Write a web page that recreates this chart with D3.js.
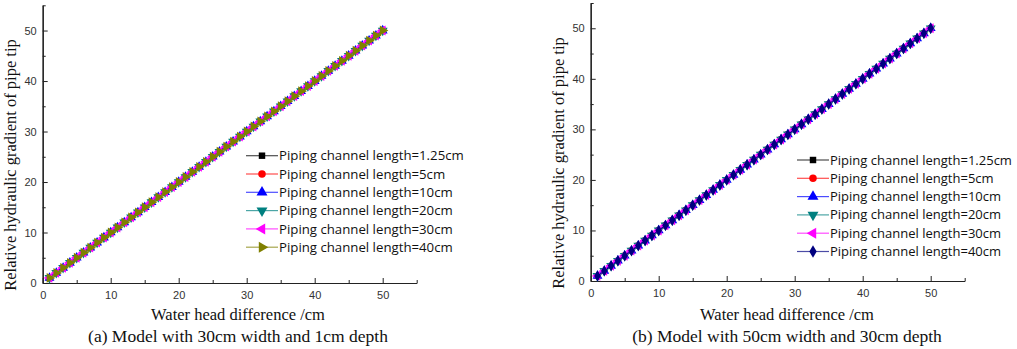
<html>
<head>
<meta charset="utf-8">
<script src="https://d3js.org/d3.v7.min.js"></script>
<style>
  body { margin: 0; background: #fff; }
  .tick text { font-family: "Liberation Sans", Arial, sans-serif; font-size: 11px; fill: #333; }
  .title { font-family: "Liberation Serif", "Times New Roman", serif; fill: #111; }
  .leg { font-family: "Open Sans", "Liberation Sans", sans-serif; font-size: 14px; fill: #111; }
</style>
</head>
<body>
<svg id="chart" width="1017" height="349"></svg>
<script>

// water head difference (cm) and relative gradient
var head = [1,2,3,4,5,6,7,8,9,10,11,12,13,14,15,16,17,18,19,20,21,22,23,24,25,
            26,27,28,29,30,31,32,33,34,35,36,37,38,39,40,41,42,43,44,45,46,47,48,49,50];
var gradient = [1,2,3,4,5,6,7,8,9,10,11,12,13,14,15,16,17,18,19,20,21,22,23,24,25,
                26,27,28,29,30,31,32,33,34,35,36,37,38,39,40,41,42,43,44,45,46,47,48,49,50];

var seriesNames = ["Piping channel length=1.25cm", "Piping channel length=5cm",
                   "Piping channel length=10cm", "Piping channel length=20cm",
                   "Piping channel length=30cm", "Piping channel length=40cm"];
var majorTicks = [0, 10, 20, 30, 40, 50];
var minorTicks = [5, 15, 25, 35, 45, 55];
var captions = ["(a) Model with 30cm width and 1cm depth", "(b) Model with 50cm width and 30cm depth"];
var xTitle = "Water head difference /cm";
var yTitle = "Relative hydraulic gradient of pipe tip";

var colorsA = ["#000000", "#ff0000", "#0000ff", "#008080", "#ff00ff", "#808000"];
var colorsB = ["#000000", "#ff0000", "#0000ff", "#008080", "#ff00ff", "#000080"];
var shapesA = ["square", "circle", "up", "down", "left", "right"];
var shapesB = ["square", "circle", "up", "down", "left", "diamond"];

var svg = d3.select("#chart");

function symbolPath(shape, size) {
	var t = d3.symbolTriangle;
	if (shape == "square") return { d: d3.symbol(d3.symbolSquare, size * 0.8)(), r: 0 };
	if (shape == "circle") return { d: d3.symbol(d3.symbolCircle, size * 0.85)(), r: 0 };
	if (shape == "diamond") return { d: d3.symbol(d3.symbolDiamond, size * 0.9)(), r: 0 };
	var rot = { up: 0, down: 180, left: -90, right: 90 }[shape];
	return { d: d3.symbol(t, size)(), r: rot };
}

function panel(cfg) {
	var x = d3.scaleLinear().domain([0, 55]).range([cfg.x0, cfg.x1]);
	var y = d3.scaleLinear().domain([0, 55]).range([cfg.y0, cfg.y1]);
	var g = svg.append("g");

	// axes, ticks pointing inward
	g.append("g").attr("transform", "translate(0," + cfg.y0 + ")")
		.call(d3.axisBottom(x).tickValues(majorTicks).tickSizeInner(-5).tickSizeOuter(0).tickPadding(8));
	g.append("g").attr("transform", "translate(0," + cfg.y0 + ")")
		.call(d3.axisBottom(x).tickValues(minorTicks).tickSizeInner(-3).tickSizeOuter(0).tickFormat(""));
	g.append("g").attr("transform", "translate(" + cfg.x0 + ",0)")
		.call(d3.axisLeft(y).tickValues(majorTicks).tickSizeInner(-5).tickSizeOuter(0).tickPadding(6));
	g.append("g").attr("transform", "translate(" + cfg.x0 + ",0)")
		.call(d3.axisLeft(y).tickValues(minorTicks).tickSizeInner(-3).tickSizeOuter(0).tickFormat(""));
	g.selectAll(".domain").attr("stroke", "#222").attr("stroke-width", 1.2);
	g.selectAll(".tick line").attr("stroke", "#222");

	// series
	var line = d3.line().x(function (d) { return x(d[0]); }).y(function (d) { return y(d[1]); });
	seriesNames.forEach(function (name, s) {
		var pts = head.map(function (h, i) { return [h, gradient[i]]; });
		g.append("path").datum(pts).attr("d", line)
			.attr("fill", "none").attr("stroke", cfg.colors[s]).attr("stroke-width", 1);
		var sym = symbolPath(cfg.shapes[s], 42);
		g.selectAll(".pt" + s).data(pts).enter().append("path")
			.attr("d", sym.d)
			.attr("transform", function (d) { return "translate(" + x(d[0]) + "," + y(d[1]) + ") rotate(" + sym.r + ")"; })
			.attr("fill", cfg.colors[s]);
	});

	// legend
	var texts = [];
	seriesNames.forEach(function (name, s) {
		var ly = cfg.legY + s * cfg.legStep;
		var lg = g.append("g").attr("transform", "translate(" + cfg.legX + "," + ly + ")");
		lg.append("line").attr("x1", 0).attr("x2", 32).attr("y1", 0).attr("y2", 0)
			.attr("stroke", cfg.colors[s]).attr("stroke-opacity", 0.7).attr("stroke-width", 1.2);
		var sym = symbolPath(cfg.shapes[s], 52);
		lg.append("path").attr("d", sym.d)
			.attr("transform", "translate(16,0) rotate(" + sym.r + ")")
			.attr("fill", cfg.colors[s]);
		texts.push(lg.append("text").attr("class", "leg").attr("x", 33).attr("y", 0).attr("dy", "0.35em")
			.text(name));
	});
	// size legend font so the longest entry spans the width seen in the picture
	var w = texts[0].node().getComputedTextLength();
	var fs = 14 * cfg.legW / w;
	texts.forEach(function (t) { t.style("font-size", fs + "px"); });

	// titles
	g.append("text").attr("class", "title").attr("x", cfg.cx).attr("y", 320)
		.attr("text-anchor", "middle").style("font-size", "16.5px").text(xTitle);
	g.append("text").attr("class", "title").attr("x", cfg.cx).attr("y", 342)
		.attr("text-anchor", "middle").style("font-size", "17.5px").text(cfg.caption);
	g.append("text").attr("class", "title")
		.attr("transform", "translate(" + cfg.ylx + "," + cfg.lyc + ") rotate(-90)")
		.attr("text-anchor", "middle").attr("dy", "0.35em").style("font-size", "16.5px").text(yTitle);
}

panel({ x0: 42.7, x1: 416.7, y0: 283, y1: 5.3, colors: colorsA, shapes: shapesA,
	legX: 246, legY: 155.7, legStep: 18.3, legW: 185,
	cx: 238, ylx: 10, lyc: 165, caption: captions[0] });
panel({ x0: 590.7, x1: 964.7, y0: 281, y1: 3.0, colors: colorsB, shapes: shapesB,
	legX: 797, legY: 160, legStep: 18.3, legW: 182,
	cx: 787, ylx: 558, lyc: 163, caption: captions[1] });

</script>
</body>
</html>
